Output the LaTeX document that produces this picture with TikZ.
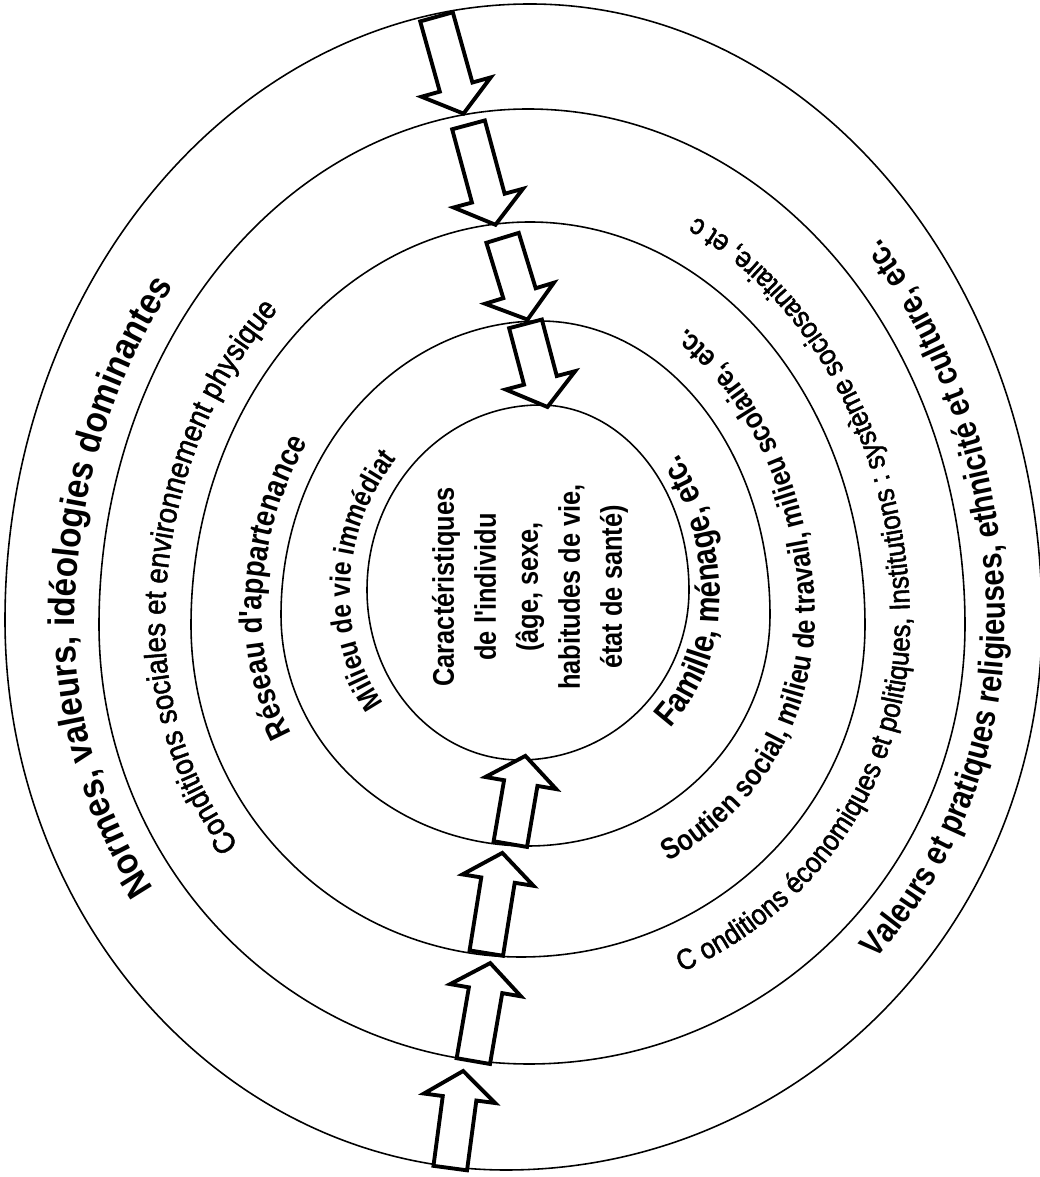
\documentclass[tikz,border=0pt]{standalone}
\usepackage{fontspec}
\setmainfont{Liberation Sans}
\newfontfamily\bandfont{Liberation Sans}[FakeStretch=0.85]
\newfontfamily\bandwidefont{Liberation Sans}[FakeStretch=0.9]
\newfontfamily\bandmedfont{Liberation Sans}[FakeStretch=0.9, FakeBold=1.6]
\usetikzlibrary{calc, shapes.arrows, decorations.text}

% one ring from its top, bottom, left and right extremes (Tx,TY,Bx,BY,Lx,Rx,MY)
\newcommand{\ring}[7]{%
  \draw[ringline] (#5,#7)
    arc[start angle=180, end angle=270, x radius={#3-#5}, y radius={#7-#4}]
    arc[start angle=270, end angle=360, x radius={#6-#3}, y radius={#7-#4}]
    arc[start angle=0, end angle=90, x radius={#6-#1}, y radius={#2-#7}]
    arc[start angle=90, end angle=180, x radius={#1-#5}, y radius={#2-#7}] -- cycle;}

\begin{document}
\begin{tikzpicture}[
    x=0.02cm, y=0.02cm,
    ringline/.style={line width=0.9pt},
    blockarrow/.style={
      single arrow, draw, fill=white, line width=2.2pt, inner xsep=0pt, inner ysep=0.3cm,
      single arrow head extend=0.38cm, single arrow tip angle=105
    },
    bandtext/.style={decorate, decoration={text along path, text align=center, text={#1}}},
    coretext/.style={align=center, font=\bandfont\bfseries\fontsize{17}{23.9}\selectfont},
]
  \useasboundingbox (0,0) rectangle (1039,1177);

  \ring{530}{1173}{506}{7}{5}{1042}{557}
  \ring{528}{1068}{529}{113}{99}{965}{552}
  \ring{530}{955}{521}{220}{191}{865}{552}
  \ring{540}{856}{528}{331}{281}{770}{562}
  \ring{540}{772}{520}{417}{367}{689}{587}

  \node[coretext, rotate=90] (individu) at (530,590) {Caractéristiques\\de l'individu\\(âge, sexe,\\habitudes de vie,\\état de santé)};

  % left side, read upwards
  \path[bandtext={|\bandwidefont\bfseries\fontsize{21}{21}\selectfont|Normes, valeurs, idéologies dominantes}]
    ($(523,553.3)+(227:448 and 467.3)$) arc[start angle=227, end angle=180, x radius=448, y radius=467.3]
    arc[start angle=180, end angle=130, x radius=453.5, y radius=541.5];
  \path[bandtext={|\bandmedfont\fontsize{17.5}{17.5}\selectfont|Conditions sociales et environnement physique}]
    ($(523.3,552)+(227:358.3 and 362.3)$) arc[start angle=227, end angle=180, x radius=358.3, y radius=362.3]
    arc[start angle=180, end angle=124.8, x radius=364.4, y radius=435];
  \path[bandtext={|\bandfont\bfseries\fontsize{18.2}{18.2}\selectfont|Réseau d'appartenance}]
    ($(526.5,559.9)+(220.7:264.5 and 252.2)$) arc[start angle=220.7, end angle=180, x radius=264.5, y radius=252.2]
    arc[start angle=180, end angle=135.1, x radius=275.9, y radius=316.9];
  \path[bandtext={|\bandfont\bfseries\fontsize{16.5}{16.5}\selectfont|Milieu de vie immédiat}]
    ($(521.6,582)+(231.1:171.6 and 182.2)$) arc[start angle=231.1, end angle=180, x radius=171.6, y radius=182.2]
    arc[start angle=180, end angle=125.6, x radius=190, y radius=206.8];

  % right side, read upwards
  \path[bandtext={|\bandfont\bfseries\fontsize{19.6}{19.6}\selectfont|Famille, ménage, etc.}]
    ($(523.1,577.4)+(-57.2:196.9 and 193.3)$) arc[start angle=-57.2, end angle=0, x radius=196.9, y radius=193.3]
    arc[start angle=0, end angle=55, x radius=180, y radius=226.8];
  \path[bandtext={|\bandfont\bfseries\fontsize{17}{17}\selectfont|Soutien social, milieu de travail, milieu scolaire, etc.}]
    ($(524.7,557.3)+(-73.4:290.3 and 278.9)$) arc[start angle=-73.4, end angle=0, x radius=290.3, y radius=278.9]
    arc[start angle=0, end angle=70.4, x radius=279.7, y radius=345.6];
  \path[bandtext={|\bandmedfont\fontsize{16.5}{16.5}\selectfont|C onditions économiques et politiques, Institutions : système sociosanitaire, et c}]
    ($(524.6,552)+(-76.4:385.4 and 380.1)$) arc[start angle=-76.4, end angle=0, x radius=385.4, y radius=380.1]
    arc[start angle=0, end angle=74.3, x radius=380.9, y radius=453.9];
  \path[bandtext={|\bandfont\bfseries\fontsize{19.5}{19.5}\selectfont|Valeurs et pratiques religieuses, ethnicité et culture, etc.}]
    ($(517,554.6)+(-55.2:488 and 496.7)$) arc[start angle=-55.2, end angle=0, x radius=488, y radius=496.7]
    arc[start angle=0, end angle=54.4, x radius=476, y radius=568];

  \foreach \name/\tx/\ty/\ang/\len in {a1/436/1162/-74.4/2.01, a2/468/1054/-74.9/2.07,
      a3/502/941/-73/1.71, a4/525/855/-75.2/1.72, b1/510/331/80.3/1.79,
      b2/486/222/80.9/2.03, b3/473/114/80.2/1.99, b4/450/7/82.4/1.96}
    \node[blockarrow, rotate=\ang, minimum height=\len cm, anchor=tail] (\name) at (\tx,\ty) {};
\end{tikzpicture}
\end{document}
